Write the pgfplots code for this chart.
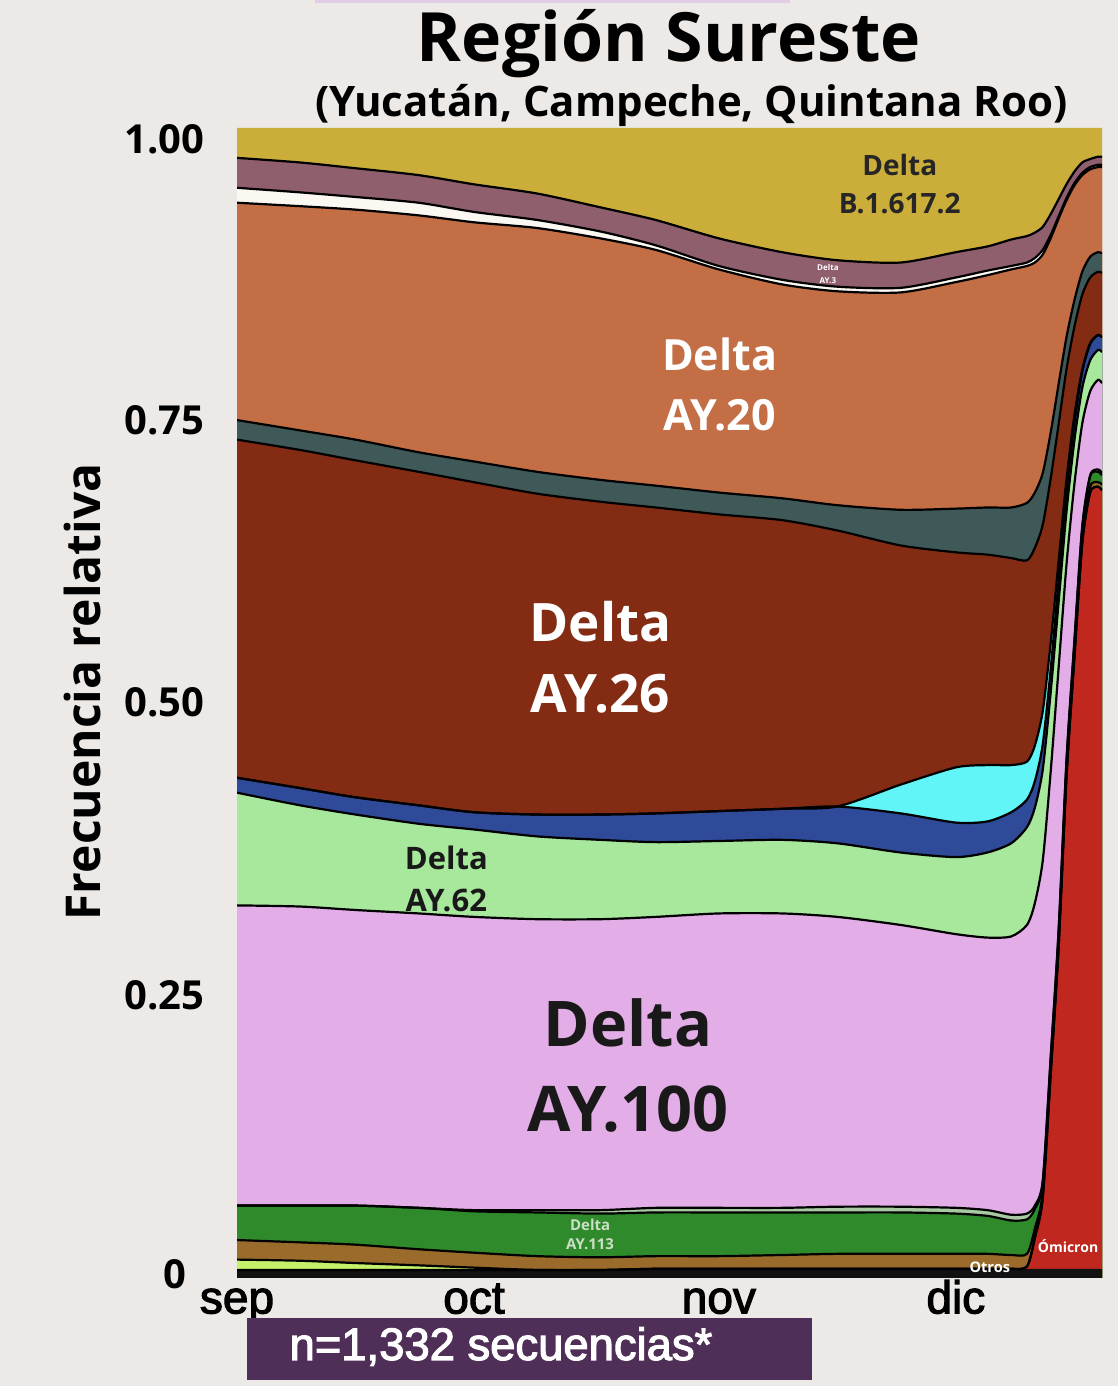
\documentclass[border=0pt]{standalone}
\usepackage{pgfplots}
\usepackage{pgfplotstable}
\pgfplotsset{compat=1.18}
\usepackage{fontspec}
\setmainfont{Open Sans}
\newfontfamily\arialf[FakeBold=2.5]{Liberation Sans}

\definecolor{bg}{HTML}{ECE9E7}
\definecolor{topstrip}{HTML}{E2CDE6}
\definecolor{boxc}{HTML}{4F2E57}
\definecolor{cgold}{HTML}{CBAE3A}
\definecolor{cay3}{HTML}{8F5F6E}
\definecolor{cwht}{HTML}{FBF8F2}
\definecolor{cay20}{HTML}{C46E45}
\definecolor{csla}{HTML}{3F5958}
\definecolor{cay26}{HTML}{832C13}
\definecolor{ccya}{HTML}{62F5F7}
\definecolor{cblu}{HTML}{2E4A98}
\definecolor{clgr}{HTML}{A8E89C}
\definecolor{cpnk}{HTML}{E3AEE7}
\definecolor{cgry}{HTML}{A8C9A2}
\definecolor{cgrn}{HTML}{2F8A2B}
\definecolor{cbro}{HTML}{9A6B2A}
\definecolor{clim}{HTML}{C4F06A}
\definecolor{comi}{HTML}{C0271F}
\definecolor{cotr}{HTML}{111111}

% upper edge of each lineage (cumulative relative frequency), x in days from 1 Sep
\pgfplotstableread{
d     otr   omi   lim   bro   grn   gry   pnk   lgr   blu   cya   ay26  sla   ay20  wht   ay3
0     0.007 0.007 0.016 0.033 0.063 0.063 0.324 0.422 0.435 0.435 0.729 0.746 0.935 0.948 0.974
8     0.007 0.007 0.015 0.031 0.063 0.063 0.323 0.411 0.426 0.426 0.720 0.737 0.932 0.944 0.970
15    0.007 0.007 0.013 0.029 0.063 0.063 0.320 0.403 0.418 0.418 0.711 0.729 0.929 0.940 0.965
23    0.007 0.007 0.011 0.025 0.061 0.061 0.317 0.395 0.411 0.411 0.701 0.718 0.924 0.935 0.959
30    0.007 0.007 0.009 0.022 0.058 0.059 0.314 0.390 0.405 0.405 0.692 0.710 0.918 0.927 0.951
38    0.007 0.007 0.007 0.019 0.057 0.059 0.312 0.384 0.403 0.403 0.682 0.701 0.913 0.920 0.943
46    0.007 0.007 0.007 0.018 0.056 0.059 0.312 0.381 0.403 0.403 0.675 0.694 0.904 0.910 0.931
53    0.008 0.008 0.008 0.019 0.057 0.061 0.314 0.379 0.404 0.404 0.670 0.689 0.894 0.898 0.920
61    0.008 0.008 0.008 0.019 0.057 0.061 0.317 0.380 0.406 0.406 0.664 0.683 0.877 0.880 0.904
69    0.008 0.008 0.008 0.020 0.057 0.061 0.317 0.381 0.408 0.408 0.659 0.678 0.864 0.868 0.892
76    0.008 0.008 0.008 0.021 0.057 0.062 0.314 0.378 0.410 0.410 0.650 0.672 0.858 0.862 0.885
84    0.008 0.008 0.008 0.021 0.057 0.062 0.307 0.370 0.404 0.429 0.637 0.668 0.857 0.861 0.883
91    0.008 0.008 0.008 0.021 0.056 0.061 0.299 0.366 0.396 0.444 0.631 0.669 0.866 0.870 0.892
95    0.008 0.008 0.008 0.021 0.054 0.059 0.296 0.370 0.397 0.446 0.629 0.670 0.872 0.876 0.897
98    0.008 0.008 0.008 0.020 0.050 0.055 0.297 0.378 0.405 0.446 0.626 0.670 0.877 0.880 0.903
100   0.008 0.010 0.010 0.021 0.051 0.056 0.307 0.392 0.416 0.449 0.624 0.674 0.880 0.883 0.906
101   0.008 0.035 0.035 0.043 0.060 0.063 0.326 0.409 0.432 0.463 0.635 0.683 0.883 0.887 0.909
102   0.008 0.070 0.070 0.075 0.083 0.085 0.363 0.442 0.464 0.493 0.655 0.700 0.890 0.894 0.914
103   0.008 0.177 0.177 0.182 0.190 0.192 0.440 0.509 0.529 0.552 0.695 0.735 0.904 0.907 0.925
104   0.008 0.287 0.287 0.291 0.300 0.302 0.530 0.587 0.606 0.623 0.742 0.777 0.921 0.923 0.938
105   0.008 0.435 0.435 0.439 0.448 0.450 0.620 0.666 0.683 0.694 0.790 0.818 0.937 0.939 0.951
106   0.008 0.539 0.539 0.543 0.552 0.554 0.690 0.728 0.743 0.750 0.827 0.850 0.950 0.952 0.962
107   0.008 0.639 0.639 0.643 0.652 0.654 0.743 0.774 0.788 0.790 0.855 0.875 0.959 0.961 0.970
108   0.008 0.683 0.683 0.688 0.697 0.698 0.771 0.798 0.812 0.813 0.870 0.888 0.964 0.966 0.973
109   0.008 0.688 0.688 0.692 0.701 0.703 0.781 0.807 0.820 0.820 0.875 0.892 0.966 0.968 0.975
109.5 0.008 0.685 0.685 0.690 0.698 0.700 0.778 0.805 0.818 0.818 0.874 0.891 0.966 0.968 0.975
}\muller

\newcommand{\layer}[2]{\addplot[fill=#2, draw=none] table[x=d, y=#1] {\muller} \closedcycle;}
\newcommand{\edge}[1]{\addplot[black, line width=1.1pt] table[x=d, y=#1] {\muller};}

\begin{document}
\begin{tikzpicture}
\path[use as bounding box, fill=bg] (0,0) rectangle (559pt,693pt);
\fill[topstrip] (157.5pt,691.5pt) rectangle (395pt,693pt);
\node[anchor=base, font=\fontsize{34}{40}\selectfont\bfseries] at (334.5pt,662pt) {Región Sureste};
\node[anchor=base, font=\fontsize{21}{25}\selectfont\bfseries] at (345.75pt,634.5pt) {(Yucatán, Campeche, Quintana Roo)};
\node[rotate=90, font=\fontsize{24}{30}\selectfont\bfseries] at (41pt,347pt) {Frecuencia relativa};

\begin{axis}[
  at={(118.5pt,54pt)}, anchor=south west,
  scale only axis, width=432.5pt, height=575pt,
  xmin=0, xmax=109.5, ymin=0, ymax=1,
  axis line style={draw=none}, major tick length=0pt,
  xtick={0,30,61,91}, xticklabels={sep,oct,nov,dic},
  ytick={0.003,0.246,0.501,0.746,0.99},
  yticklabels={0\rule{9pt}{0pt},0.25,0.50,0.75,1.00},
  xticklabel style={font=\arialf\fontsize{23}{23}\selectfont, inner sep=0pt,
    anchor=north, text height=16.5pt, yshift=-1pt},
  yticklabel style={font=\fontsize{20}{20}\selectfont\bfseries, inner sep=0pt,
    anchor=east, xshift=-16pt},
  every axis plot/.append style={smooth, tension=0.45},
]
\addplot[fill=cgold, draw=none] coordinates {(0,1) (109.5,1)} \closedcycle;
\layer{ay3}{cay3}
\layer{wht}{cwht}
\layer{ay20}{cay20}
\layer{sla}{csla}
\layer{ay26}{cay26}
\layer{cya}{ccya}
\layer{blu}{cblu}
\layer{lgr}{clgr}
\layer{pnk}{cpnk}
\layer{gry}{cgry}
\layer{grn}{cgrn}
\layer{bro}{cbro}
\layer{lim}{clim}
\layer{omi}{comi}
\layer{otr}{cotr}

\edge{ay3}
\edge{wht}
\edge{ay20}
\edge{sla}
\edge{ay26}
\edge{cya}
\edge{blu}
\edge{lgr}
\edge{pnk}
\edge{gry}
\edge{grn}
\edge{bro}
\edge{lim}
\edge{omi}

\node[align=center, font=\fontsize{14}{19}\selectfont\bfseries, text=black!85] at (axis cs:83.9,0.951) {Delta\\B.1.617.2};
\node[align=center, font=\fontsize{4}{6.5}\selectfont\bfseries, text=white] at (axis cs:74.8,0.873) {Delta\\AY.3};
\node[align=center, font=\fontsize{21.5}{30}\selectfont\bfseries, text=white] at (axis cs:61.1,0.777) {Delta\\AY.20};
\node[align=center, font=\fontsize{26.5}{35.5}\selectfont\bfseries, text=white] at (axis cs:46.0,0.540) {Delta\\AY.26};
\node[align=center, font=\fontsize{15.5}{21}\selectfont\bfseries, text=black!90] at (axis cs:26.5,0.347) {Delta\\AY.62};
\node[align=center, font=\fontsize{31.5}{42.5}\selectfont\bfseries, text=black!90] at (axis cs:49.5,0.185) {Delta\\AY.100};
\node[align=center, font=\fontsize{7.5}{9.5}\selectfont\bfseries, text=cgry!60!white] at (axis cs:44.7,0.038) {Delta\\AY.113};
\node[font=\fontsize{7}{8}\selectfont\bfseries, text=white] at (axis cs:105.2,0.028) {Ómicron};
\node[font=\fontsize{7.3}{8}\selectfont\bfseries, text=white] at (axis cs:95.3,0.009) {Otros};
\end{axis}

\fill[boxc] (123.5pt,3pt) rectangle (406pt,34pt);
\node[anchor=base, text=white, font=\arialf\fontsize{22.7}{25}\selectfont] at (250.5pt,13pt) {n=1,332 secuencias*};
\end{tikzpicture}
\end{document}
